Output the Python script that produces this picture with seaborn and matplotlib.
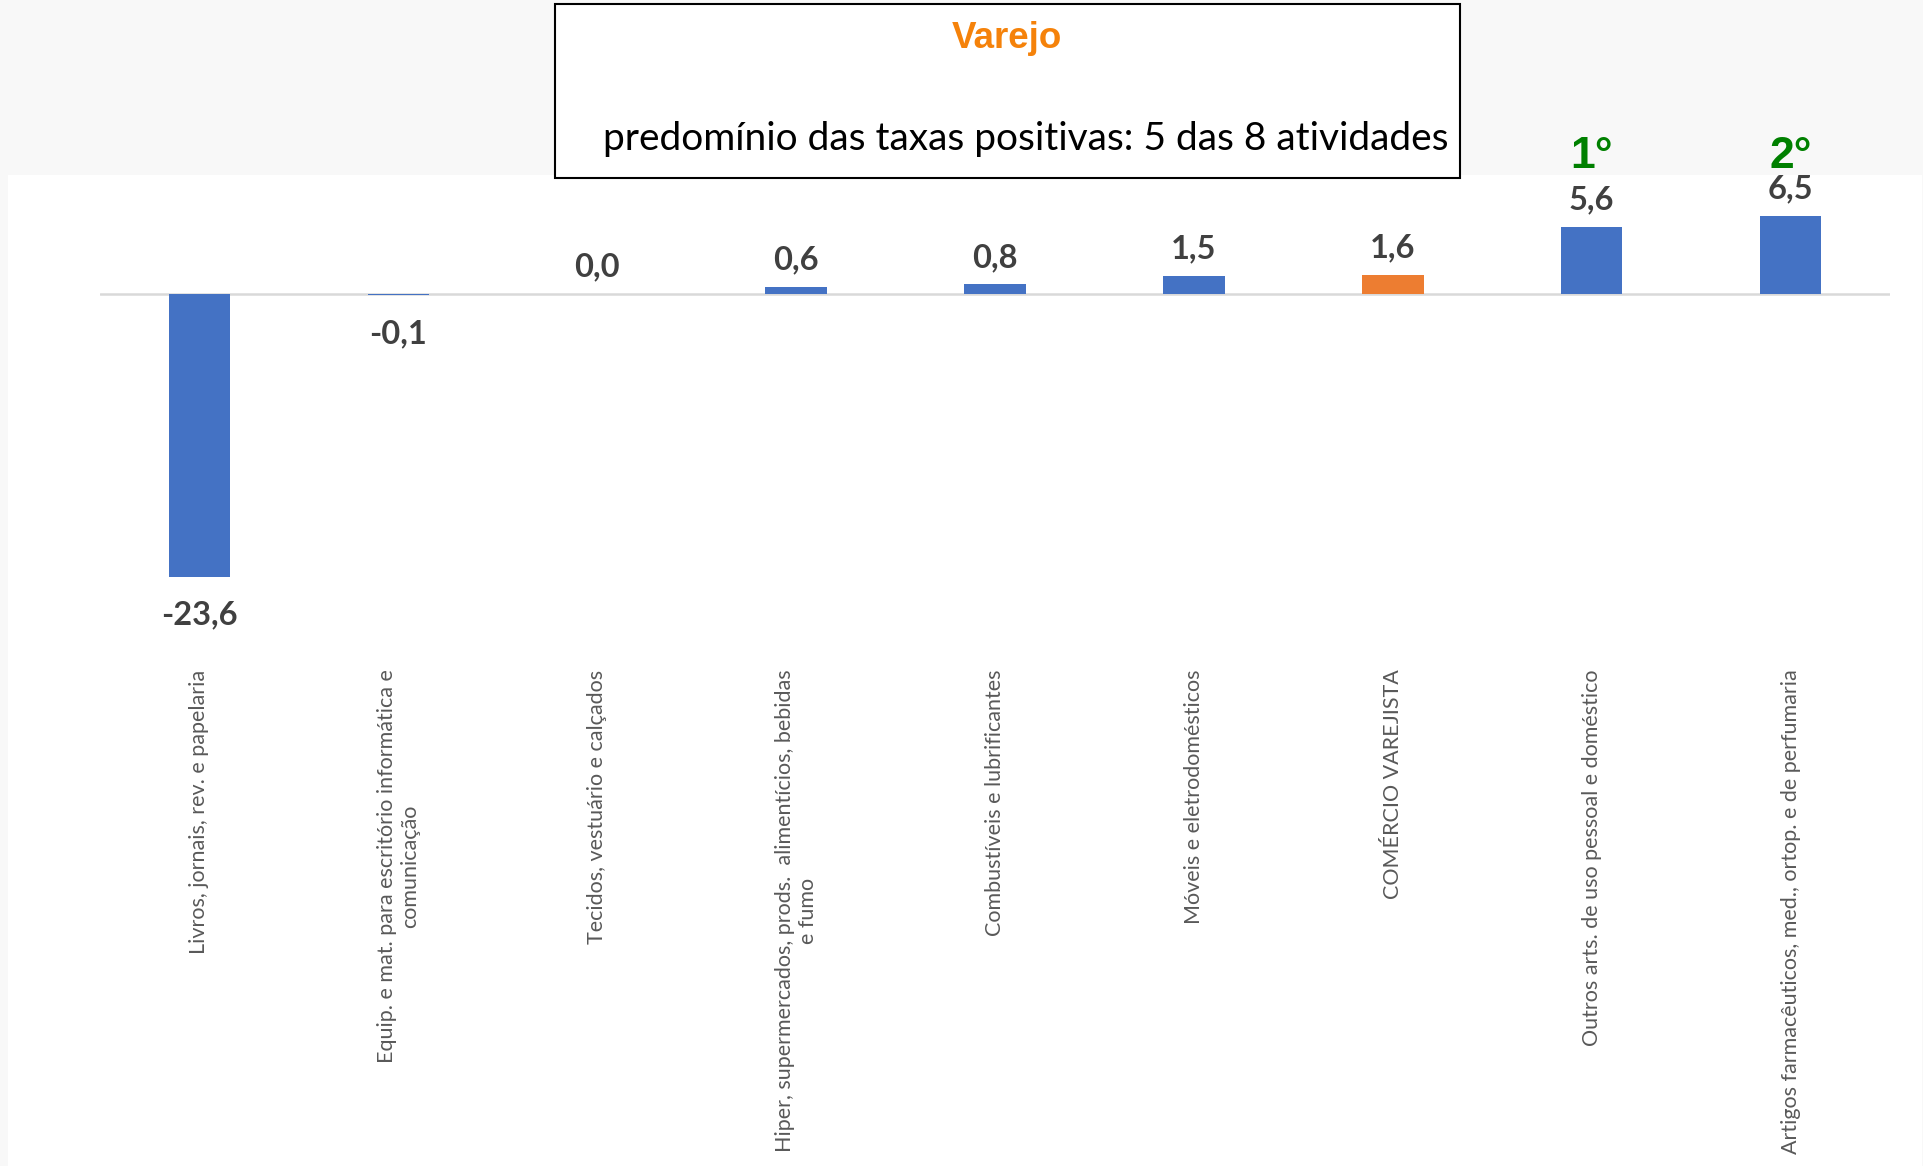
import matplotlib.pyplot as plt
import matplotlib.patches as mpatches
import seaborn as sns

categories = [
    "Livros, jornais, rev. e papelaria",
    "Equip. e mat. para escritório informática e\ncomunicação",
    "Tecidos, vestuário e calçados",
    "Hiper, supermercados, prods.  alimentícios, bebidas\ne fumo",
    "Combustíveis e lubrificantes",
    "Móveis e eletrodomésticos",
    "COMÉRCIO VAREJISTA",
    "Outros arts. de uso pessoal e doméstico",
    "Artigos farmacêuticos, med., ortop. e de perfumaria",
]
values = [-23.6, -0.1, 0.0, 0.6, 0.8, 1.5, 1.6, 5.6, 6.5]
bar_colors = ["#4472C4"] * 6 + ["#ED7D31"] + ["#4472C4"] * 2
ranking = {7: "1°", 8: "2°"}

title = "Varejo"
subtitle = "predomínio das taxas positivas: 5 das 8 atividades"

W, H = 1924, 1166
sns.set_theme(style="white")
plt.rcParams["font.family"] = ["Lato", "DejaVu Sans"]

fig = plt.figure(figsize=(W / 100, H / 100), dpi=100, facecolor="#F8F8F8")

# white chart panel
fig.patches.append(mpatches.Rectangle((8 / W, 0), (1922 - 8) / W, 1 - 175 / H,
                                      transform=fig.transFigure, facecolor="white",
                                      edgecolor="none", zorder=-1))

ax = fig.add_axes([100 / W, 1 - 650 / H, 1790 / W, 475 / H])
ax.set_facecolor("none")

sns.barplot(x=categories, y=values, hue=categories, palette=bar_colors,
            width=0.31, legend=False, saturation=1, linewidth=0,
            edgecolor="none", ax=ax, zorder=3)
ax.axhline(0, color="#D9D9D9", lw=1.8, zorder=2)

ax.set_xlim(-0.5, len(values) - 0.5)
ax.set_ylim(-29.67, 9.92)
sns.despine(ax=ax, left=True, bottom=True)
ax.set_yticks([])
ax.set_ylabel("")
ax.tick_params(axis="x", length=0, pad=14)
ax.set_xticks(range(len(categories)))
ax.set_xticklabels(categories, rotation=90, fontsize=15.5, color="#595959",
                   ha="center", va="top", multialignment="center")

for i, v in enumerate(values):
    txt = f"{v:.1f}".replace(".", ",")
    if v >= 0:
        ax.annotate(txt, (i, v), xytext=(0, 9), textcoords="offset points",
                    ha="center", va="bottom", fontsize=23.5, fontweight="bold",
                    color="#404040")
    else:
        ax.annotate(txt, (i, v), xytext=(0, -17), textcoords="offset points",
                    ha="center", va="top", fontsize=23.5, fontweight="bold",
                    color="#404040")

for i, r in ranking.items():
    ax.annotate(r, (i, 1 - 157 / H), xycoords=("data", "figure fraction"),
                ha="center", va="center", fontsize=32, fontweight="bold",
                color="#008000", family=["Liberation Sans", "DejaVu Sans"])

# header box
fig.patches.append(mpatches.Rectangle((555 / W, 1 - 178 / H), 905 / W, 174 / H,
                                      transform=fig.transFigure, facecolor="white",
                                      edgecolor="black", lw=1.5, zorder=5))
fig.text(1007 / W, 1 - 39 / H, title, ha="center", va="center", fontsize=26.5,
         fontweight="bold", color="#F5820A", family=["Liberation Sans", "DejaVu Sans"],
         zorder=6)
fig.text(1026 / W, 1 - 139 / H, subtitle, ha="center", va="center", fontsize=28,
         color="black", zorder=6)

fig.savefig("out.png", dpi=100, facecolor=fig.get_facecolor())
